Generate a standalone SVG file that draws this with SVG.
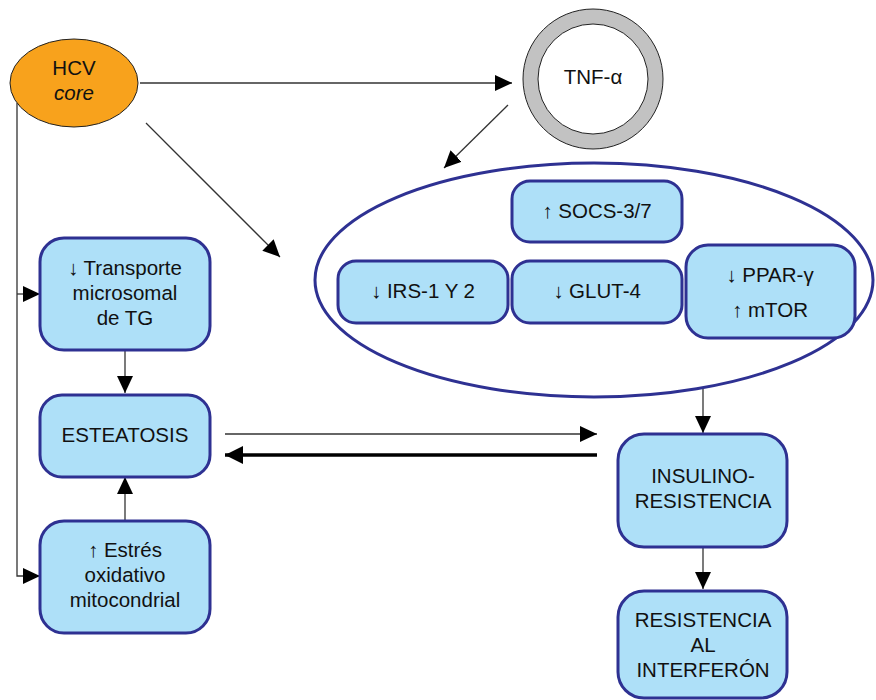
<svg xmlns="http://www.w3.org/2000/svg" width="876" height="700" viewBox="0 0 876 700">
  <style>
    text { font-family: "Liberation Sans", Arial, sans-serif; font-size: 20.5px; fill: #111; text-anchor: middle; }
    .box { fill: #aee0f8; stroke: #2e3192; stroke-width: 3; }
    .wire { fill: none; stroke: #333; stroke-width: 1.3; }
    .heavy { fill: none; stroke: #000; stroke-width: 3.5; }
  </style>
  <defs>
    <marker id="head" markerUnits="userSpaceOnUse" markerWidth="17" markerHeight="16" refX="17" refY="8" orient="auto">
      <path d="M0,0 L17,8 L0,16 Z" fill="#000"/>
    </marker>
    <marker id="headBig" markerUnits="userSpaceOnUse" markerWidth="18" markerHeight="18" refX="18" refY="9" orient="auto">
      <path d="M0,0 L18,9 L0,18 Z" fill="#000"/>
    </marker>
  </defs>

  <!-- connectors -->
  <g id="connectors">
    <path class="wire" d="M17,103 V576 H40" marker-end="url(#head)"/>
    <path class="wire" d="M17,294 H40" marker-end="url(#head)"/>
    <path class="wire" d="M140,83 H512" marker-end="url(#head)"/>
    <path class="wire" d="M146,123 L280,257" marker-end="url(#head)"/>
    <path class="wire" d="M508,105 L444,168" marker-end="url(#head)"/>
    <path class="wire" d="M125,350 V393" marker-end="url(#head)"/>
    <path class="wire" d="M125,520 V477" marker-end="url(#head)"/>
    <path class="wire" d="M225,434 H597" marker-end="url(#head)"/>
    <path class="heavy" d="M597,455 H225" marker-end="url(#headBig)"/>
    <path class="wire" d="M703,389 V433" marker-end="url(#head)"/>
    <path class="wire" d="M703,547 V589" marker-end="url(#head)"/>
  </g>

  <!-- HCV core -->
  <g id="hcv">
    <ellipse cx="74" cy="83" rx="64" ry="44" fill="#f8a21c" stroke="#222" stroke-width="1"/>
    <text x="74" y="75">HCV</text>
    <text x="74" y="100" font-style="italic">core</text>
  </g>

  <!-- TNF-alpha ring -->
  <g id="tnf">
    <circle cx="593" cy="79" r="70" fill="#c2c2c2" stroke="#222" stroke-width="1"/>
    <circle cx="593" cy="79" r="55" fill="#fff" stroke="#222" stroke-width="1"/>
    <text x="593" y="84">TNF-α</text>
  </g>

  <!-- pathway group -->
  <g id="pathway">
    <ellipse cx="594" cy="280" rx="279" ry="117" fill="none" stroke="#2e3192" stroke-width="3"/>
  </g>

  <g id="socs">
    <rect class="box" x="512" y="181" width="170" height="61" rx="18"/>
    <text x="597" y="218">↑ SOCS-3/7</text>
  </g>

  <g id="irs">
    <rect class="box" x="338" y="261" width="170" height="62" rx="18"/>
    <text x="423" y="298">↓ IRS-1 Y 2</text>
  </g>

  <g id="glut">
    <rect class="box" x="512" y="261" width="170" height="62" rx="18"/>
    <text x="597" y="298">↓ GLUT-4</text>
  </g>

  <g id="ppar">
    <rect class="box" x="686" y="245" width="169" height="93" rx="22"/>
    <text x="770" y="282">↓ PPAR-γ</text>
    <text x="770" y="317">↑ mTOR</text>
  </g>

  <g id="transporte">
    <rect class="box" x="40" y="238" width="170" height="112" rx="24"/>
    <text x="125" y="275">↓ Transporte</text>
    <text x="125" y="300">microsomal</text>
    <text x="125" y="325">de TG</text>
  </g>

  <g id="esteatosis">
    <rect class="box" x="40" y="395" width="170" height="82" rx="22"/>
    <text x="125" y="442">ESTEATOSIS</text>
  </g>

  <g id="estres">
    <rect class="box" x="40" y="521" width="170" height="112" rx="24"/>
    <text x="125" y="557">↑ Estrés</text>
    <text x="125" y="582">oxidativo</text>
    <text x="125" y="607">mitocondrial</text>
  </g>

  <g id="insulino">
    <rect class="box" x="618" y="434" width="169" height="113" rx="26"/>
    <text x="703" y="483">INSULINO-</text>
    <text x="703" y="508">RESISTENCIA</text>
  </g>

  <g id="interferon">
    <rect class="box" x="618" y="591" width="169" height="107" rx="26"/>
    <text x="703" y="627">RESISTENCIA</text>
    <text x="703" y="652">AL</text>
    <text x="703" y="677">INTERFERÓN</text>
  </g>
</svg>
